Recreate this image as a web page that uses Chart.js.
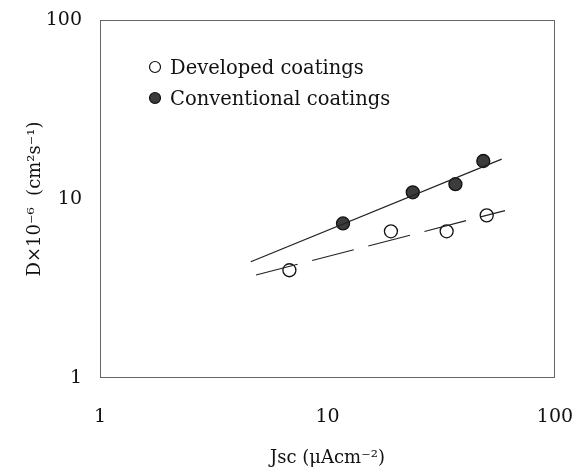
<!DOCTYPE html>
<html><head><meta charset="utf-8">
<script src="https://cdn.jsdelivr.net/npm/chart.js@4/dist/chart.umd.min.js"></script>
<style>html,body{margin:0;padding:0;background:#fff}#wrap{width:579px;height:469px}</style>
</head><body>
<div id="wrap"><canvas id="c" width="579" height="469"></canvas></div>
<script>
const xTicks = [1, 10, 100];
const yTicks = [1, 10, 100];
const developedJsc = [6.8, 19.0, 33.4, 50.1];
const developedD = [4.0, 6.6, 6.6, 8.1];
const conventionalJsc = [11.7, 23.7, 36.5, 48.4];
const conventionalD = [7.3, 10.9, 12.1, 16.3];
const conventionalFitJsc = [4.6, 58.3];
const conventionalFitD = [4.46, 16.7];
const developedFitJsc = [4.85, 60.3];
const developedFitD = [3.76, 8.61];
const seriesLabels = ['Developed coatings', 'Conventional coatings'];
const xTitle = 'Jsc (\u03bcAcm\u207b\u00b2)';
const yTitle = 'D\u00d710\u207b\u2076  (cm\u00b2s\u207b\u00b9)';

const FONT = "'DejaVu Serif', serif";
const pts = (xs, ys) => xs.map((x, i) => ({x: x, y: ys[i]}));

const legendPlugin = {
  id: 'innerLegend',
  afterDraw(chart) {
    const ctx = chart.ctx;
    const items = chart.data.datasets.filter(d => d.inLegend);
    ctx.save();
    ctx.font = "19.5px " + FONT;
    ctx.textBaseline = 'alphabetic';
    ctx.textAlign = 'left';
    items.forEach((d, i) => {
      const cy = 67 + i * 31;
      ctx.beginPath();
      ctx.arc(155, cy, 5.5, 0, Math.PI * 2);
      ctx.fillStyle = d.backgroundColor;
      ctx.fill();
      ctx.lineWidth = 1.2;
      ctx.strokeStyle = d.borderColor;
      ctx.stroke();
      ctx.fillStyle = '#111';
      ctx.fillText(d.label, 170, cy + 7);
    });
    ctx.restore();
  }
};
const frame = {
  id: 'frame',
  beforeDatasetsDraw(chart) {
    const a = chart.chartArea, ctx = chart.ctx;
    ctx.save();
    ctx.strokeStyle = '#666';
    ctx.lineWidth = 1;
    ctx.strokeRect(a.left + 0.5, a.top + 0.5, a.right - a.left - 1, a.bottom - a.top - 1);
    ctx.restore();
  }
};

new Chart(document.getElementById('c'), {
  type: 'scatter',
  data: {
    datasets: [
      {label: 'conv fit', type: 'line', data: pts(conventionalFitJsc, conventionalFitD), borderColor: '#222', borderWidth: 1.2, pointRadius: 0, fill: false},
      {label: 'dev fit', type: 'line', data: pts(developedFitJsc, developedFitD), borderColor: '#222', borderWidth: 1.2, borderDash: [43, 15], pointRadius: 0, fill: false},
      {label: seriesLabels[0], inLegend: true, data: pts(developedJsc, developedD), backgroundColor: '#ffffff', borderColor: '#111', borderWidth: 1.3, pointRadius: 6.5},
      {label: seriesLabels[1], inLegend: true, data: pts(conventionalJsc, conventionalD), backgroundColor: '#3c3c3c', borderColor: '#111', borderWidth: 1.3, pointRadius: 6.5}
    ]
  },
  options: {
    responsive: false,
    animation: false,
    layout: {padding: {left: 0, right: 24, top: 20, bottom: 0}},
    plugins: {legend: {display: false}, tooltip: {enabled: false}},
    scales: {
      x: {
        type: 'logarithmic', min: 1, max: 100,
        afterBuildTicks: s => { s.ticks = xTicks.map(v => ({value: v})); },
        afterFit: s => { s.height = 91; s.paddingLeft = 0; s.paddingRight = 0; },
        grid: {display: false, drawTicks: false},
        border: {display: false},
        ticks: {callback: v => String(v), color: '#111', padding: 28, maxRotation: 0, font: {family: FONT, size: 19}},
        title: {display: true, text: xTitle, color: '#111', padding: {top: 0, bottom: 0}, font: {family: FONT, size: 18}}
      },
      y: {
        type: 'logarithmic', min: 1, max: 100,
        afterBuildTicks: s => { s.ticks = yTicks.map(v => ({value: v})); },
        afterFit: s => { s.width = 100; s.paddingTop = 0; s.paddingBottom = 0; },
        grid: {display: false, drawTicks: false},
        border: {display: false},
        ticks: {callback: v => String(v), color: '#111', padding: 18, font: {family: FONT, size: 19}},
        title: {display: true, text: yTitle, color: '#111', padding: {top: 25, bottom: 0}, font: {family: FONT, size: 18}}
      }
    }
  },
  plugins: [frame, legendPlugin]
});
</script>
</body></html>
